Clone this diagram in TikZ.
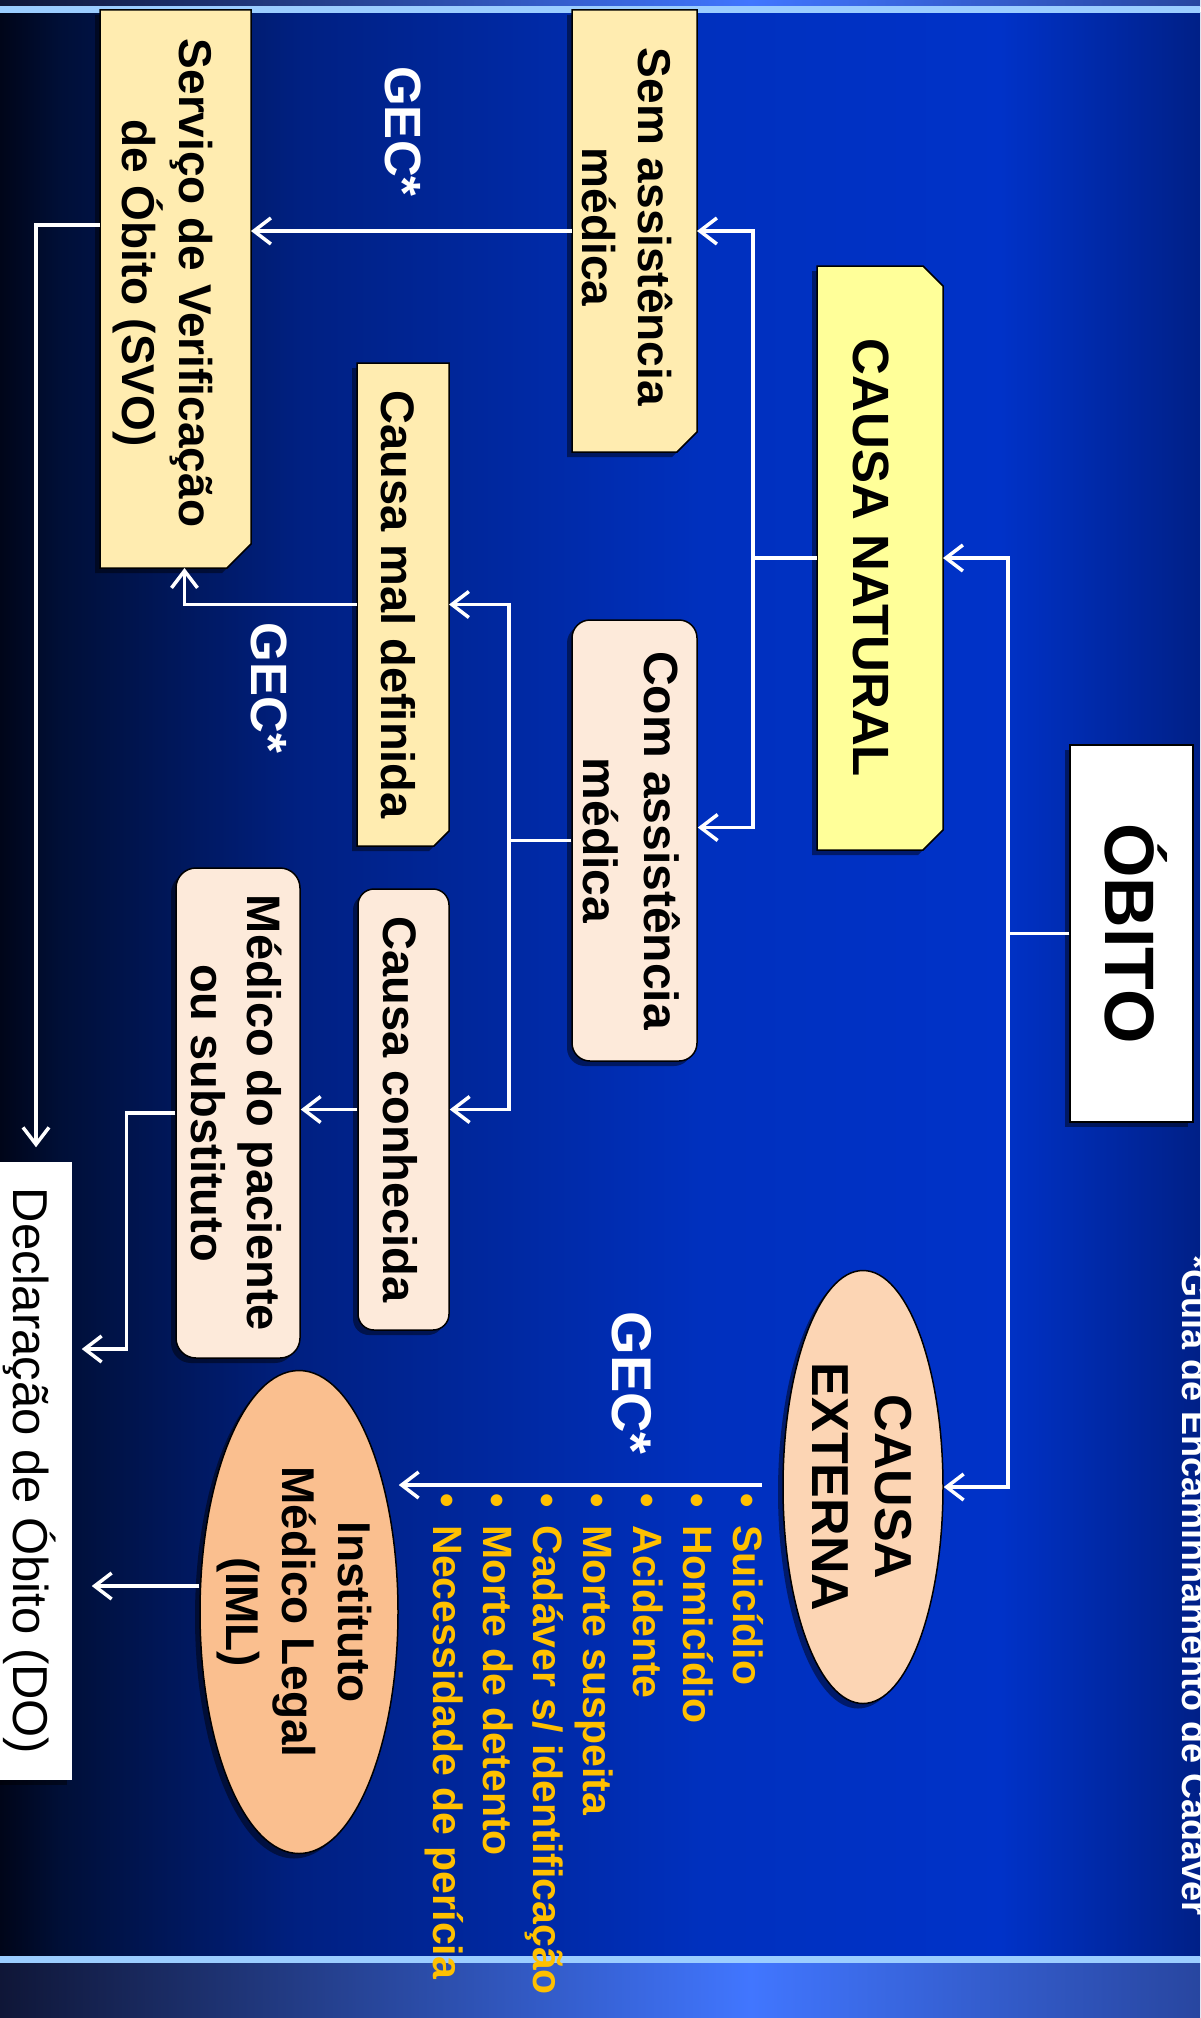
\documentclass[tikz,border=0pt]{standalone}
\usepackage{fontspec}
\setmainfont{Liberation Sans}
\usetikzlibrary{arrows.meta,shapes.geometric}
\definecolor{bgA}{RGB}{0,5,25}
\definecolor{bgB}{RGB}{0,15,55}
\definecolor{bgC}{RGB}{0,32,130}
\definecolor{bgD}{RGB}{0,48,190}
\definecolor{bgE}{RGB}{0,50,200}
\definecolor{bgF}{RGB}{0,32,135}
\definecolor{bandA}{RGB}{15,22,55}
\definecolor{bandB}{RGB}{65,118,255}
\definecolor{bandC}{RGB}{40,70,160}
\definecolor{stripc}{RGB}{155,205,255}
\definecolor{natc}{RGB}{255,255,153}
\definecolor{yelc}{RGB}{255,236,176}
\definecolor{peachc}{RGB}{253,234,218}
\definecolor{extc}{RGB}{252,213,180}
\definecolor{imlc}{RGB}{250,191,143}
\definecolor{listc}{RGB}{255,192,0}
\newcommand\setfs[2]{\fontsize{#1}{#2}\selectfont}
\newcommand\twolines[2]{\begin{tabular}[b]{@{}c@{}}#1\\#2\end{tabular}}
\begin{document}
\begin{tikzpicture}[x=1pt,y=-1pt,
  sh/.style={preaction={fill=black, fill opacity=0.45, draw=none, transform canvas={xshift=-5pt,yshift=-5pt}}},
  box/.style={rotate=-90, draw=black, line width=1.5pt, inner sep=0pt, text=black, text depth=0pt, sh},
  frame/.style={rotate=-90, inner sep=0pt, outer sep=0pt},
  snipdraw/.style={draw=black, line width=1.5pt, sh},
  lbl/.style={rotate=-90, inner sep=0pt, text=white},
  wl/.style={draw=white, line width=3.5pt},
  arr/.style={-{Straight Barb[length=17pt,width=26pt]}}
]
\useasboundingbox (0,0) rectangle (1200,2018);
\clip (0,0) rectangle (1200,2018);
% background
\shade[left color=bgA,right color=bgB] (0,13) rectangle (61,1956);
\shade[left color=bgB,right color=bgC] (60,13) rectangle (301,1956);
\shade[left color=bgC,right color=bgD] (300,13) rectangle (701,1956);
\shade[left color=bgD,right color=bgE] (700,13) rectangle (1001,1956);
\shade[left color=bgE,right color=bgF] (1000,13) rectangle (1200,1956);
\shade[left color=bandA,right color=bandB] (0,0) rectangle (751,7);
\shade[left color=bandB,right color=bandC] (750,0) rectangle (1200,7);
\fill[stripc] (0,6) rectangle (1200,13);
\fill[stripc] (0,1956) rectangle (1200,1963);
\shade[left color=bandA,right color=bandB] (0,1963) rectangle (751,2018);
\shade[left color=bandB,right color=bandC] (750,1963) rectangle (1200,2018);

% boxes
\node[box, fill=white, minimum width=377pt, minimum height=123pt, text height=53pt,
      font=\setfs{70}{84}\bfseries] (obito) at (1131.5,933.5) {ÓBITO};

\node[frame, minimum width=584pt, minimum height=126pt] (cn) at (880,558) {};
\path[snipdraw, fill=natc] (cn.south west) -- ([xshift=-20pt]cn.north west) -- ([yshift=-20pt]cn.north west)
   -- ([yshift=20pt]cn.north east) -- ([xshift=-20pt]cn.north east) -- (cn.south east) -- cycle;
\node[lbl, text=black, text height=54pt, text depth=0pt, font=\setfs{51}{61}\bfseries] (cnt) at (cn.center) {CAUSA NATURAL};

\node[frame, minimum width=442pt, minimum height=125pt] (sa) at (634.5,231) {};
\path[snipdraw, fill=yelc] (sa.south west) -- (sa.north west) -- ([yshift=20pt]sa.north east)
   -- ([xshift=-20pt]sa.north east) -- (sa.south east) -- cycle;
\node[lbl, text=black, anchor=base, font=\setfs{46}{56}\bfseries] (sat) at (582,227) {\twolines{Sem assistência}{médica}};

\node[frame, minimum width=558pt, minimum height=151pt] (sv) at (175.5,289) {};
\path[snipdraw, fill=yelc] (sv.south west) -- (sv.north west) -- ([yshift=24pt]sv.north east)
   -- ([xshift=-24pt]sv.north east) -- (sv.south east) -- cycle;
\node[lbl, text=black, anchor=base, font=\setfs{46}{56}\bfseries] (svt) at (122,283) {\twolines{Serviço de Verificação}{de Óbito (SVO)}};

\node[frame, minimum width=483pt, minimum height=92pt] (md) at (403,604.5) {};
\path[snipdraw, fill=yelc] (md.south west) -- (md.north west) -- ([yshift=15pt]md.north east)
   -- ([xshift=-15pt]md.north east) -- (md.south east) -- cycle;
\node[lbl, text=black, text height=44pt, text depth=0pt, font=\setfs{47}{56}\bfseries] (mdt) at (md.center) {Causa mal definida};

\node[box, rounded corners=18pt, fill=peachc, minimum width=441pt, minimum height=125pt, text height=103pt,
      font=\setfs{48}{61}\bfseries] (ca) at (634.5,840.5) {\twolines{Com assistência}{médica}};
\node[box, rounded corners=16pt, fill=peachc, minimum width=441pt, minimum height=91pt, text height=41pt,
      font=\setfs{47}{56}\bfseries] (cc) at (403.5,1109.5) {Causa conhecida};
\node[box, rounded corners=20pt, fill=peachc, minimum width=490pt, minimum height=124pt, text height=94pt,
      font=\setfs{47}{56}\bfseries] (mp) at (238,1113) {\twolines{Médico do paciente}{ou substituto}};
\node[box, ellipse, fill=extc, minimum width=433pt, minimum height=160pt] (ce) at (863,1487) {};
\node[box, ellipse, fill=imlc, minimum width=483pt, minimum height=198pt] (iml) at (299,1612) {};
\node[box, draw=none, fill=white, preaction={}, minimum width=618pt, minimum height=72pt, text height=46pt,
      font=\setfs{49}{58}] (do) at (36,1471) {Declaração de Óbito (DO)};

\node[lbl, text=black, anchor=base, font=\setfs{52}{63}\bfseries] (cet) at (812,1487) {\twolines{CAUSA}{EXTERNA}};
\node[lbl, text=black, anchor=base, font=\setfs{46}{56}\bfseries] (imlt) at (226,1612)
  {\begin{tabular}[b]{@{}c@{}}Instituto\\Médico Legal\\(IML)\end{tabular}};

\node[lbl, anchor=base, font=\setfs{51}{60}\bfseries] (gec1) at (385,131.5) {GEC*};
\node[lbl, anchor=base, font=\setfs{51}{60}\bfseries] (gec2) at (251,688) {GEC*};
\node[lbl, anchor=base, font=\setfs{56}{66}\bfseries] (gec3) at (612,1383) {GEC*};
\node[lbl, anchor=base west, font=\setfs{36}{42}\bfseries] (guia) at (1182,1255) {*Guia de Encaminhamento de Cadáver};
\node[lbl, text=listc, anchor=base west, font=\setfs{41}{50}\bfseries] (lista) at (733,1493)
  {\begin{tabular}[t]{@{}l@{\hspace{18pt}}l@{}}
   \textbullet & Suicídio\\
   \textbullet & Homicídio\\
   \textbullet & Acidente\\
   \textbullet & Morte suspeita\\
   \textbullet & Cadáver s/ identificação\\
   \textbullet & Morte de detento\\
   \textbullet & Necessidade de perícia
   \end{tabular}};

% connectors
\coordinate (j1) at (1008,933.5);
\draw[wl] (obito.south) -- (j1);
\draw[wl,arr] (j1) |- (cn.north);
\draw[wl,arr] (j1) |- (ce.north);
\coordinate (j2) at (753,558);
\draw[wl] (cn.south) -- (j2);
\draw[wl,arr] (j2) |- (sa.north);
\draw[wl,arr] (j2) |- ([yshift=13pt]ca.north);
\draw[wl,arr] (sa.south) -- (sa.south -| sv.north);
\coordinate (svout) at ([yshift=64pt]sv.south);
\draw[wl,arr,shorten >=14pt] (svout) -| (do.west);
\draw[wl,arr] (md.south) -| ([xshift=9pt]sv.east);
\coordinate (j3) at (509,840.5);
\draw[wl] (ca.south) -- (j3);
\draw[wl,arr] (j3) |- (md.north);
\draw[wl,arr] (j3) |- (cc.north);
\draw[wl,arr] (cc.south) -- (cc.south -| mp.north);
\draw[wl,arr,shorten >=9pt] (mp.south) -- ++(-49,0) |- ([yshift=122pt]do.north);
\coordinate (ceout) at (762,1485);
\draw[wl,arr] (ceout) -- (ceout -| iml.north);
\coordinate (imlout) at ([yshift=26pt]iml.south);
\draw[wl,arr,shorten >=19pt] (imlout) -- (imlout -| do.north);
\end{tikzpicture}
\end{document}
